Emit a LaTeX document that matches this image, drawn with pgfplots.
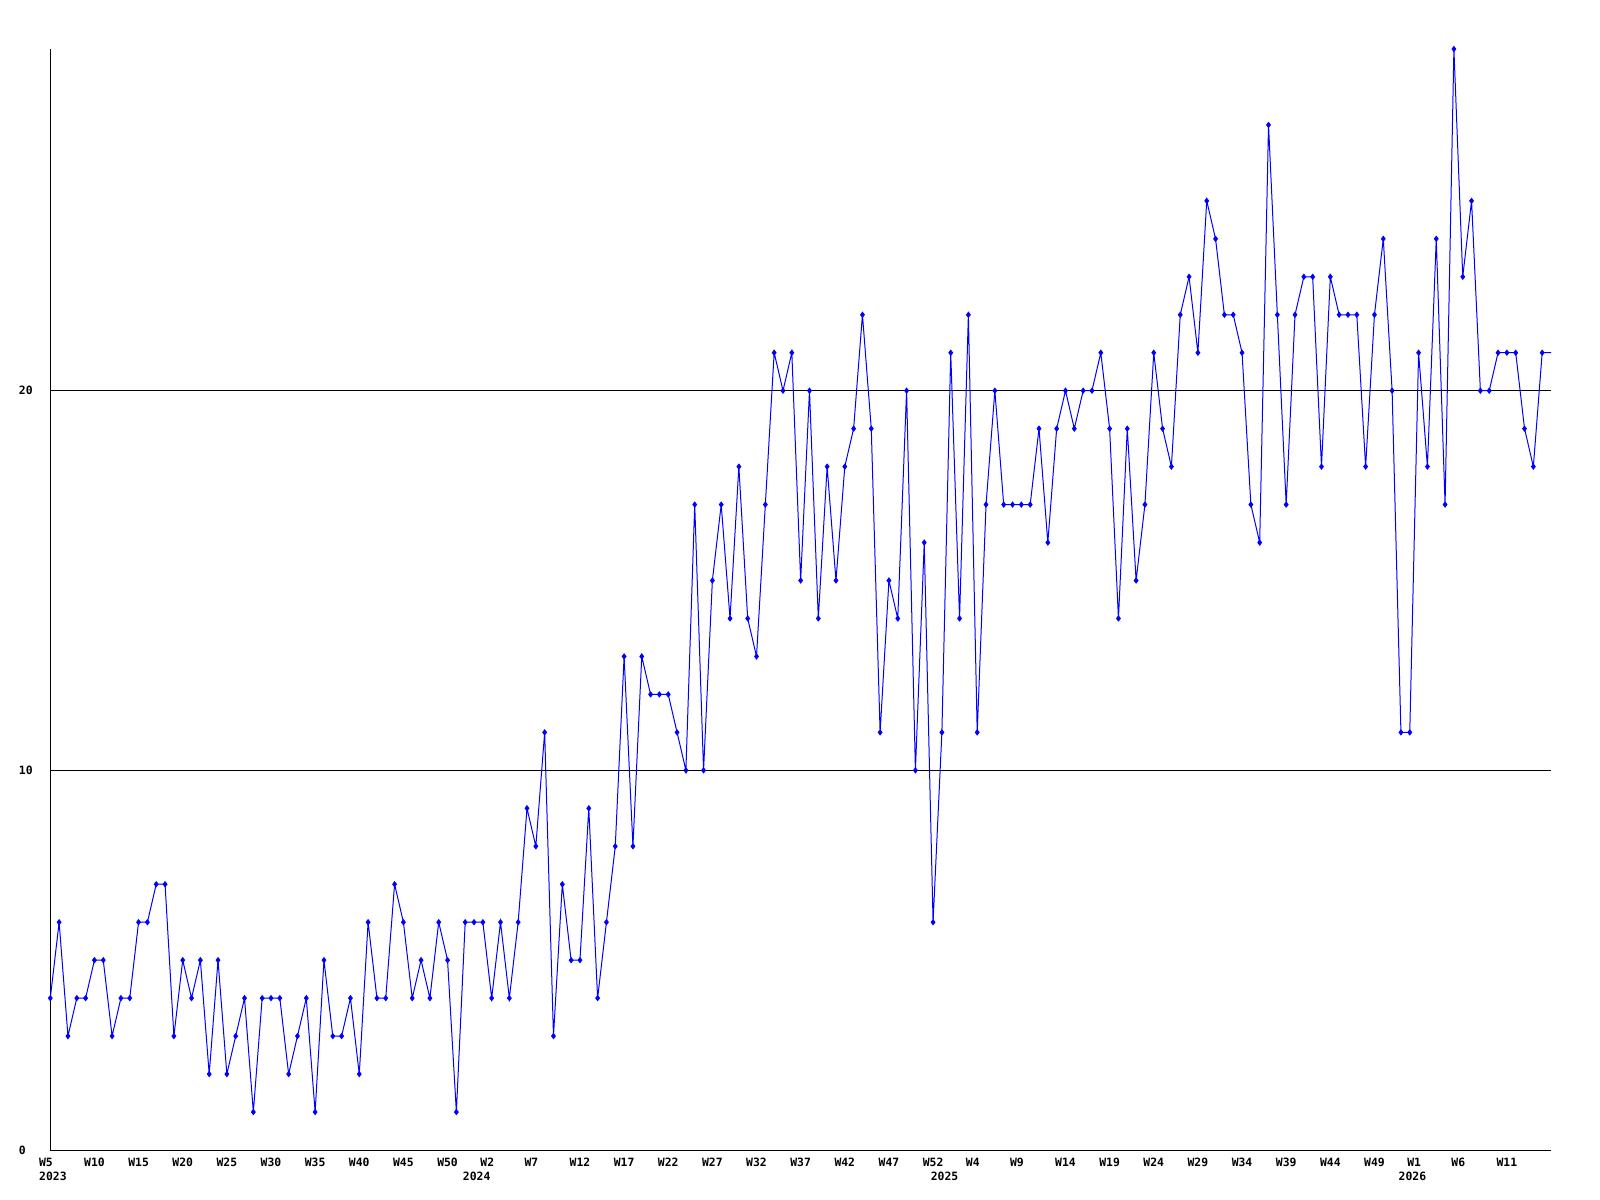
\documentclass[border=0pt]{standalone}
\usepackage{fontspec}
\setmainfont{DejaVu Sans Mono}
\usepackage{pgfplots}
\usepackage{pgfplotstable}
\pgfplotsset{compat=1.18}
\pgfplotstableread{
x y
0 4
1 6
2 3
3 4
4 4
5 5
6 5
7 3
8 4
9 4
10 6
11 6
12 7
13 7
14 3
15 5
16 4
17 5
18 2
19 5
20 2
21 3
22 4
23 1
24 4
25 4
26 4
27 2
28 3
29 4
30 1
31 5
32 3
33 3
34 4
35 2
36 6
37 4
38 4
39 7
40 6
41 4
42 5
43 4
44 6
45 5
46 1
47 6
48 6
49 6
50 4
51 6
52 4
53 6
54 9
55 8
56 11
57 3
58 7
59 5
60 5
61 9
62 4
63 6
64 8
65 13
66 8
67 13
68 12
69 12
70 12
71 11
72 10
73 17
74 10
75 15
76 17
77 14
78 18
79 14
80 13
81 17
82 21
83 20
84 21
85 15
86 20
87 14
88 18
89 15
90 18
91 19
92 22
93 19
94 11
95 15
96 14
97 20
98 10
99 16
100 6
101 11
102 21
103 14
104 22
105 11
106 17
107 20
108 17
109 17
110 17
111 17
112 19
113 16
114 19
115 20
116 19
117 20
118 20
119 21
120 19
121 14
122 19
123 15
124 17
125 21
126 19
127 18
128 22
129 23
130 21
131 25
132 24
133 22
134 22
135 21
136 17
137 16
138 27
139 22
140 17
141 22
142 23
143 23
144 18
145 23
146 22
147 22
148 22
149 18
150 22
151 24
152 20
153 11
154 11
155 21
156 18
157 24
158 17
159 29
160 23
161 25
162 20
163 20
164 21
165 21
166 21
167 19
168 18
169 21
170 21
}\datatable

\begin{document}
\begin{tikzpicture}
\begin{axis}[
  scale only axis,
  width=750.35bp, height=550.5bp,
  xmin=0, xmax=170, ymin=0, ymax=29,
  enlargelimits=false,
  axis lines=left,
  axis line style={-, black, line width=0.5bp},
  xtick={0,5,...,165},
  xticklabels={W5\rule{4.4bp}{0pt},W10,W15,W20,W25,W30,W35,W40,W45,W50,W2\rule{4.4bp}{0pt},W7\rule{4.4bp}{0pt},W12,W17,W22,W27,W32,W37,W42,W47,W52,W4\rule{4.4bp}{0pt},W9\rule{4.4bp}{0pt},W14,W19,W24,W29,W34,W39,W44,W49,W1\rule{4.4bp}{0pt},W6\rule{4.4bp}{0pt},W11},
  ytick={0,10,20}, yticklabels={0,10,20},
  major tick length=0pt,
  ymajorgrids,
  grid style={black, line width=0.5bp},
  tick label style={font=\fontsize{5.7bp}{6bp}\selectfont\bfseries},
  /pgf/number format/assume math mode=true,
  xticklabel style={anchor=center, yshift=-6.1bp, inner sep=0pt},
  yticklabel style={anchor=west, xshift=-15.9bp, inner sep=0pt},
  extra x ticks={0.3,48.3,101.3,154.3},
  extra x tick labels={2023,2024,2025,2026},
  extra x tick style={xticklabel style={yshift=-7.25bp}},
]
\coordinate (O) at (rel axis cs:0,0);
\addplot[blue, line width=0.5bp, mark=none] table[x=x,y=y]{\datatable};
\addplot[blue, only marks, mark=diamond*, mark size=1.3bp, skip coords between index={170}{171}] table[x=x,y=y]{\datatable};
\end{axis}
\pgfresetboundingbox
\path[use as bounding box] ([shift={(-25.15bp,-25bp)}]O) rectangle ++(800bp,600bp);
\end{tikzpicture}
\end{document}
